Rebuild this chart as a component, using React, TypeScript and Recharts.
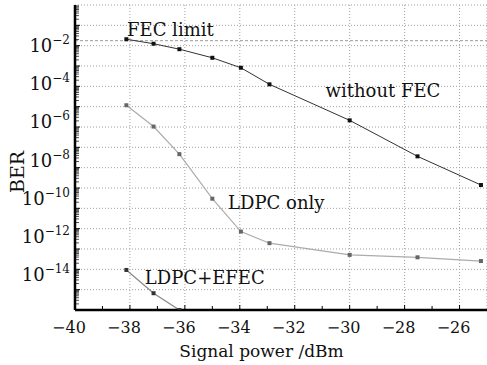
import { CartesianGrid, Line, LineChart, ReferenceDot, ReferenceLine, XAxis, YAxis } from "recharts";

// signal power (dBm) and BER
const withoutFecPower = [-38.13, -37.14, -36.2, -35, -33.96, -32.92, -30, -27.53, -25.22];
const withoutFecBer = [1.6e-2, 9.3e-3, 4.8e-3, 1.7e-3, 5.1e-4, 6.9e-5, 8.9e-7, 1.15e-8, 3.6e-10];
const ldpcPower = [-38.13, -37.14, -36.2, -35, -33.96, -32.92, -30, -27.53, -25.22];
const ldpcBer = [5.5e-6, 4.2e-7, 1.5e-8, 6.9e-11, 1.3e-12, 3.2e-13, 7.8e-14, 5.8e-14, 3.7e-14];
const efecPower = [-38.13, -37.14, -36.2];
const efecBer = [1.26e-14, 7.6e-16, 1e-16];
const fecLimit = 1.34e-2;

const xMin = -40;
const xMax = -25;
const yMin = 1e-16;
const xTicks = [-40, -38, -36, -34, -32, -30, -28, -26];
const xMinorTicks = [-39, -37, -35, -33, -31, -29, -27];
const yLabelTicks = [1e-2, 1e-4, 1e-6, 1e-8, 1e-10, 1e-12, 1e-14];
const yGridTicks = [1e-1, 1e-2, 1e-3, 1e-4, 1e-5, 1e-6, 1e-7, 1e-8, 1e-9, 1e-10, 1e-11, 1e-12, 1e-13, 1e-14];
const minorMultipliers = [2, 3, 4, 5, 6, 7, 8, 9];
const yMinorTicks = [1e-15, ...yGridTicks].flatMap((d) => minorMultipliers.map((m) => m * d));

// text annotations, anchored at (power, BER) of the text baseline start
const notes = [
  { text: "FEC limit", x: -38.07, y: 2.17e-2 },
  { text: "without FEC", x: -30.84, y: 1.28e-5 },
  { text: "LDPC only", x: -34.39, y: 1.76e-11 },
  { text: "LDPC+EFEC", x: -37.42, y: 2.04e-15 },
];

const toRows = (xs: number[], ys: number[]) => xs.map((x, i) => ({ x, ber: ys[i] }));
const withoutFec = toRows(withoutFecPower, withoutFecBer);
const ldpcOnly = toRows(ldpcPower, ldpcBer);
const ldpcEfec = toRows(efecPower, efecBer);

const font = "'DejaVu Serif', serif";

function XTick({ x, y, payload }: any) {
  return (
    <text x={x} y={y + 23} dx={-6} textAnchor="middle" fontFamily={font} fontSize={16} fill="#111">
      {payload.value < 0 ? `\u2212${Math.abs(payload.value)}` : payload.value}
    </text>
  );
}

function YTick({ x, y, payload }: any) {
  const exp = Math.round(Math.log10(payload.value));
  return (
    <text x={x} y={y + 9} textAnchor="end" fontFamily={font} fontSize={18} fill="#111">
      10
      <tspan dy={-8} fontSize={12}>{`\u2212${Math.abs(exp)}`}</tspan>
    </text>
  );
}

// tick marks only, no text
const NoLabel = () => <g />;

function XLabel({ viewBox }: any) {
  return (
    <text x={viewBox.x + viewBox.width / 2 - 19.5} y={viewBox.y + 47} textAnchor="middle" fontFamily={font} fontSize={17} fill="#111">
      Signal power /dBm
    </text>
  );
}

function YLabel({ viewBox }: any) {
  const cx = viewBox.x + 17;
  const cy = viewBox.y + viewBox.height / 2 + 14.5;
  return (
    <text x={cx} y={cy} transform={`rotate(-90 ${cx} ${cy})`} textAnchor="middle" dominantBaseline="central" fontFamily={font} fontSize={19} fill="#111">
      BER
    </text>
  );
}

function Note({ viewBox, text }: any) {
  return (
    <text x={viewBox.x} y={viewBox.y} fontFamily={font} fontSize={18} fill="#111">
      {text}
    </text>
  );
}

const squareDot = (color: string) => (props: any) => (
  <rect key={props.index} x={props.cx - 2} y={props.cy - 2} width={4} height={4} fill={color} />
);

export default function App() {
  return (
    <div>
      <style>{"body{margin:0}"}</style>
      <LineChart width={487} height={365} margin={{ top: 5, right: 0, bottom: 0, left: 0 }}>
        <CartesianGrid stroke="#a0a0a0" strokeDasharray="1 2" />
        <XAxis type="number" dataKey="x" domain={[xMin, xMax]} ticks={xTicks} interval={0} allowDataOverflow
          axisLine={false} tickLine={false} tickSize={0} tickMargin={0} tick={<XTick />} height={55} label={<XLabel />} />
        <XAxis xAxisId="majorX" type="number" dataKey="x" domain={[xMin, xMax]} ticks={xTicks} interval={0} allowDataOverflow
          mirror height={1} tick={NoLabel} tickSize={5} tickLine={{ stroke: "#000" }} axisLine={false} />
        <XAxis xAxisId="minorX" type="number" dataKey="x" domain={[xMin, xMax]} ticks={xMinorTicks} interval={0} allowDataOverflow
          mirror height={1} tick={NoLabel} tickSize={3} tickLine={{ stroke: "#000" }} axisLine={false} />
        <YAxis yAxisId="data" type="number" scale="log" domain={[yMin, 1]} ticks={yLabelTicks} interval={0} allowDataOverflow
          width={75} axisLine={false} tickLine={false} tickSize={0} tickMargin={5} tick={<YTick />} label={<YLabel />} />
        <YAxis type="number" scale="log" domain={[1e-15, 1]} ticks={yGridTicks} interval={0} allowDataOverflow
          mirror width={1} tick={NoLabel} tickSize={5} tickLine={{ stroke: "#000" }} axisLine={false} />
        <YAxis yAxisId="minorY" type="number" scale="log" domain={[1e-15, 1]} ticks={yMinorTicks} interval={0} allowDataOverflow
          mirror width={1} tick={NoLabel} tickSize={3} tickLine={{ stroke: "#000", strokeWidth: 0.7 }} axisLine={false} />
        <ReferenceLine yAxisId="data" y={fecLimit} stroke="#999" strokeDasharray="3 2" />
        {/* invisible carriers so the tick-only axes get a scale */}
        <Line xAxisId="majorX" data={withoutFec} dataKey="ber" stroke="none" dot={false} activeDot={false} isAnimationActive={false} />
        <Line xAxisId="minorX" yAxisId="minorY" data={withoutFec} dataKey="ber" stroke="none" dot={false} activeDot={false} isAnimationActive={false} />
        <Line yAxisId="data" data={withoutFec} dataKey="ber" type="linear" stroke="#333" strokeWidth={1}
          dot={squareDot("#111")} isAnimationActive={false} />
        <Line yAxisId="data" data={ldpcOnly} dataKey="ber" type="linear" stroke="#b0aaaa" strokeWidth={1.2}
          dot={squareDot("#666")} isAnimationActive={false} />
        <Line yAxisId="data" data={ldpcEfec} dataKey="ber" type="linear" stroke="#888" strokeWidth={1.2}
          dot={squareDot("#333")} isAnimationActive={false} />
        {/* bold frame on left and bottom */}
        <ReferenceLine yAxisId="data" x={xMin} stroke="#000" strokeWidth={2.5} />
        <ReferenceLine yAxisId="data" y={yMin} stroke="#000" strokeWidth={2.5} />
        {notes.map((n) => (
          <ReferenceDot key={n.text} yAxisId="data" x={n.x} y={n.y} r={1} fill="none" stroke="none"
            label={<Note text={n.text} />} />
        ))}
      </LineChart>
    </div>
  );
}
